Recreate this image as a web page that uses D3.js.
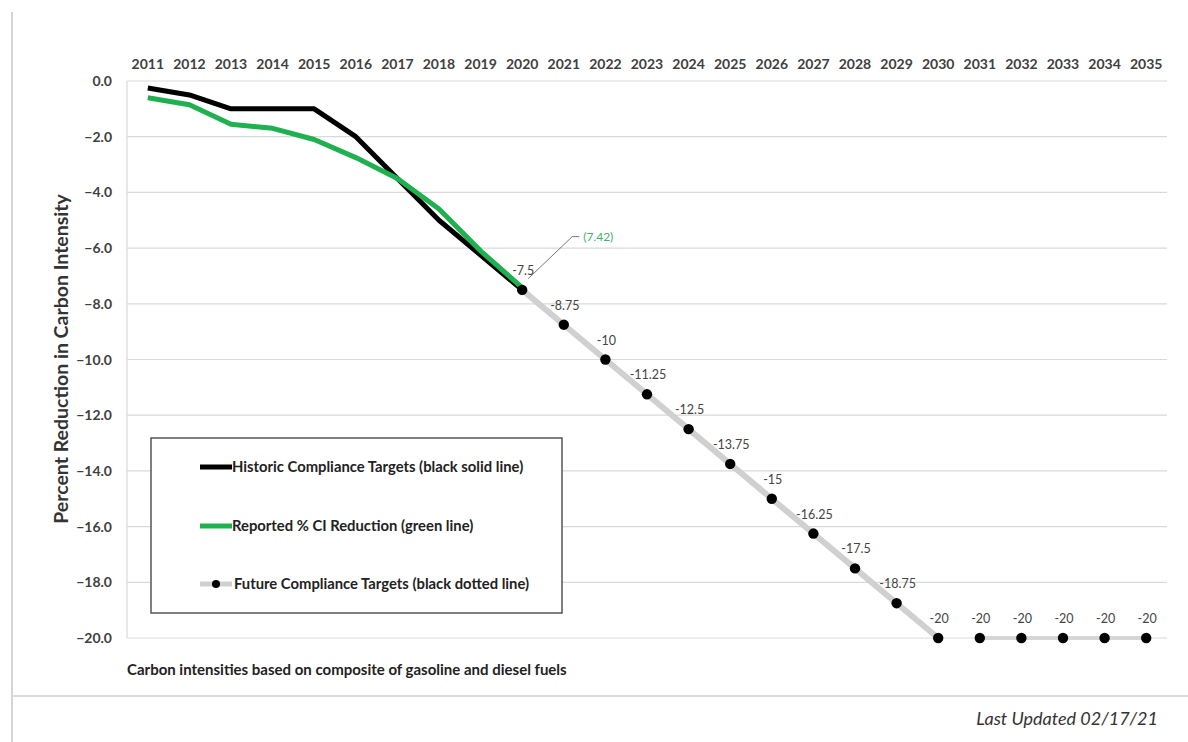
<!DOCTYPE html>
<html><head><meta charset="utf-8">
<script src="https://cdn.jsdelivr.net/npm/d3@7"></script>
<style>body{margin:0;background:#fff;} svg{display:block;font-family:Lato,"Liberation Sans",sans-serif;}</style>
</head><body>
<script>
const years = d3.range(2011, 2036).map(String);
const historicYears = ["2011","2012","2013","2014","2015","2016","2017","2018","2019","2020"];
const historicValues = [-0.25,-0.5,-1.0,-1.0,-1.0,-2.0,-3.5,-5.0,-6.25,-7.5];
const reportedValues = [-0.6,-0.85,-1.55,-1.7,-2.1,-2.75,-3.5,-4.6,-6.1,-7.42];
const futureYears = ["2020","2021","2022","2023","2024","2025","2026","2027","2028","2029","2030","2031","2032","2033","2034","2035"];
const futureValues = [-7.5,-8.75,-10,-11.25,-12.5,-13.75,-15,-16.25,-17.5,-18.75,-20,-20,-20,-20,-20,-20];
const futureLabels = ["-7.5","-8.75","-10","-11.25","-12.5","-13.75","-15","-16.25","-17.5","-18.75","-20","-20","-20","-20","-20","-20"];
const yTicks = [0,-2,-4,-6,-8,-10,-12,-14,-16,-18,-20];
const legendItems = ["Historic Compliance Targets (black solid line)","Reported % CI Reduction (green line)","Future Compliance Targets (black dotted line)"];

const W=1188,H=742;
const svg=d3.select("body").append("svg").attr("width",W).attr("height",H);
const x=d3.scaleBand().domain(years).range([127,1167]);
const cx=d=>x(d)+x.bandwidth()/2;
const y=d3.scaleLinear().domain([0,-20]).range([81,638]);

// outer frame lines
svg.append("line").attr("x1",12).attr("x2",12).attr("y1",12).attr("y2",742).attr("stroke","#d4d4d4").attr("stroke-width",2);
svg.append("line").attr("x1",12).attr("x2",1188).attr("y1",696).attr("y2",696).attr("stroke","#dcdcdc").attr("stroke-width",2);

// gridlines
svg.append("g").selectAll("line").data(yTicks).join("line")
 .attr("x1",127).attr("x2",1167).attr("y1",d=>y(d)).attr("y2",d=>y(d))
 .attr("stroke","#d9d9d9").attr("stroke-width",1.2);
svg.append("line").attr("x1",127).attr("x2",127).attr("y1",81).attr("y2",638).attr("stroke","#d9d9d9").attr("stroke-width",1.2);

// y tick labels
svg.append("g").selectAll("text").data(yTicks).join("text")
 .attr("x",112).attr("y",d=>y(d)+5).attr("text-anchor","end")
 .attr("font-size",14).attr("font-weight","bold").attr("fill","#404040")
 .text(d=>d3.format(".1f")(d));

// x labels on top
svg.append("g").selectAll("text").data(years).join("text")
 .attr("x",d=>cx(d)).attr("y",69).attr("text-anchor","middle")
 .attr("font-size",14).attr("font-weight","bold").attr("fill","#404040").text(d=>d);

// y axis title
svg.append("text").attr("transform","translate(68,359) rotate(-90)").attr("text-anchor","middle")
 .attr("font-size",19.5).attr("font-weight","bold").attr("fill","#333").text("Percent Reduction in Carbon Intensity");

const line=d3.line().x(d=>cx(d[0])).y(d=>y(d[1]));
// future gray line (gap between 2030 and 2031)
const fut=futureYears.map((d,i)=>[d,futureValues[i]]);
svg.append("path").attr("d",line(fut.slice(0,11))).attr("fill","none").attr("stroke","#d0d0d0").attr("stroke-width",6);
svg.append("path").attr("d",line(fut.slice(11))).attr("fill","none").attr("stroke","#d6d6d6").attr("stroke-width",4);

// historic black
svg.append("path").attr("d",line(historicYears.map((d,i)=>[d,historicValues[i]]))).attr("fill","none").attr("stroke","#000").attr("stroke-width",5).attr("stroke-linejoin","round");
// reported green
svg.append("path").attr("d",line(historicYears.map((d,i)=>[d,reportedValues[i]]))).attr("fill","none").attr("stroke","#1fb04f").attr("stroke-width",5).attr("stroke-linejoin","round");

// dots
svg.append("g").selectAll("circle").data(fut).join("circle")
 .attr("cx",d=>cx(d[0])).attr("cy",d=>y(d[1])).attr("r",5.2).attr("fill","#000");
// labels
svg.append("g").selectAll("text").data(fut).join("text")
 .attr("x",d=>cx(d[0])+1).attr("y",d=>y(d[1])-15).attr("text-anchor","middle")
 .attr("font-size",12.5).attr("fill","#444").text((d,i)=>futureLabels[i]);

// annotation (7.42)
const ax=cx("2020"), ay=y(-7.42);
svg.append("path").attr("d",`M${ax+6},${ay-9}L${ax+50},${ay-51}L${ax+57},${ay-51}`).attr("fill","none").attr("stroke","#777").attr("stroke-width",1);
svg.append("text").attr("x",ax+61).attr("y",ay-47).attr("font-size",12).attr("fill","#3cb371").text("(7.42)");

// legend
svg.append("rect").attr("x",151).attr("y",438).attr("width",411).attr("height",175).attr("fill","#fff").attr("stroke","#555").attr("stroke-width",1.5);
const ly=[467,526,584];
const lg=svg.append("g");
lg.append("line").attr("x1",200).attr("x2",232).attr("y1",ly[0]).attr("y2",ly[0]).attr("stroke","#000").attr("stroke-width",5);
lg.append("line").attr("x1",200).attr("x2",232).attr("y1",ly[1]).attr("y2",ly[1]).attr("stroke","#1fb04f").attr("stroke-width",5);
lg.append("line").attr("x1",200).attr("x2",232).attr("y1",ly[2]).attr("y2",ly[2]).attr("stroke","#d0d0d0").attr("stroke-width",5);
lg.append("circle").attr("cx",216).attr("cy",ly[2]).attr("r",4).attr("fill","#000");
lg.selectAll("text").data(legendItems).join("text")
 .attr("x",(d,i)=>i==2?234:232).attr("y",(d,i)=>ly[i]+5).attr("font-size",14.8).attr("font-weight","bold").attr("fill","#222").text(d=>d);

// footnote
svg.append("text").attr("x",127).attr("y",675).attr("font-size",15).attr("font-weight","bold").attr("fill","#222").text("Carbon intensities based on composite of gasoline and diesel fuels");
svg.append("text").attr("x",1158).attr("y",725).attr("text-anchor","end").attr("font-size",18).attr("font-style","italic").attr("fill","#333").text("Last Updated 02/17/21");
</script>
</body></html>
